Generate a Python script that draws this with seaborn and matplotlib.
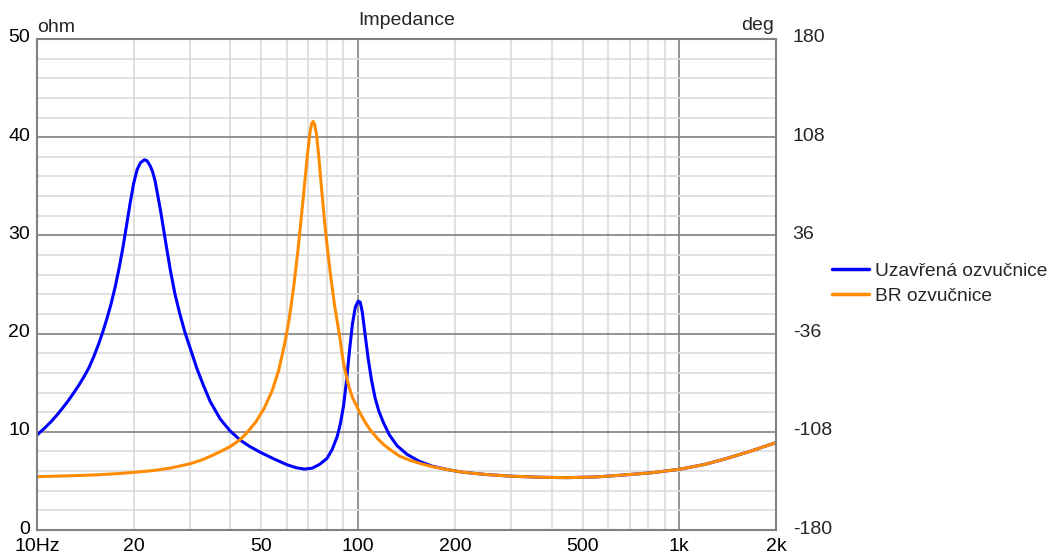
import pandas as pd
import matplotlib
matplotlib.use("Agg")
import matplotlib.pyplot as plt
import matplotlib.ticker as mticker
import matplotlib.transforms as mtransforms
import seaborn as sns

# --- data ---
SERIES_NAMES = ["Uzavřená ozvučnice", "BR ozvučnice"]
SERIES_COLORS = ["#0000ff", "#ff8c00"]

closed_freq = [10, 10.5, 11, 11.5, 12, 12.5, 13, 13.5, 14, 14.5, 15, 15.5, 16, 16.5,
               17, 17.5, 18, 18.5, 19, 19.5, 20, 20.5, 21, 21.6, 22.0, 22.5, 22.9,
               23.3, 23.7, 24.2, 25.1, 26.0, 26.9, 27.9, 28.9, 30.0, 31.5, 33.0, 34.6,
               37.2, 39.9, 42.9, 46, 50, 55, 60, 64, 68, 72, 76, 80, 83, 86, 88, 90,
               92, 94, 96, 98, 100, 101.5, 103, 105, 107.5, 110, 113, 116, 120, 125,
               132, 142, 155, 170, 190, 210, 250, 300, 370, 447, 550, 671, 820, 1000,
               1200, 1375, 1650, 2000]
closed_ohm = [9.67, 10.3, 10.95, 11.65, 12.4, 13.15, 13.95, 14.75, 15.6, 16.5, 17.6,
              18.8, 20.1, 21.5, 23.0, 24.7, 26.6, 28.7, 31.0, 33.3, 35.3, 36.7, 37.4,
              37.7, 37.6, 37.1, 36.5, 35.6, 34.3, 32.7, 29.5, 26.5, 24.0, 21.9, 20.1,
              18.5, 16.4, 14.7, 13.1, 11.3, 10.1, 9.16, 8.5, 7.85, 7.2, 6.65, 6.35,
              6.2, 6.3, 6.7, 7.3, 8.2, 9.5, 10.8, 12.6, 15.2, 18.3, 21.0, 22.7, 23.3,
              23.2, 22.2, 20.0, 17.4, 15.3, 13.4, 12.1, 10.9, 9.7, 8.6, 7.7, 7.0, 6.5,
              6.15, 5.9, 5.65, 5.48, 5.37, 5.33, 5.4, 5.6, 5.83, 6.18, 6.68, 7.2, 7.98,
              8.9]

br_freq = [10, 12, 15, 18, 20, 23, 26, 30, 33, 36, 40, 42.9, 45, 48, 51, 54, 56.5, 59,
           61, 63, 65, 66.5, 68, 69.5, 70.8, 71.7, 72.4, 73.2, 74.2, 75.5, 77, 78.5,
           80, 82, 84.5, 87.5, 90, 93, 96, 101, 105, 109, 115, 120, 128, 135, 145,
           155, 170, 190, 210, 250, 300, 370, 447, 550, 671, 820, 1000, 1200, 1375,
           1650, 2000]
br_ohm = [5.43, 5.5, 5.6, 5.75, 5.87, 6.05, 6.3, 6.75, 7.2, 7.75, 8.5, 9.2, 9.9, 11.0,
          12.4, 14.2, 16.2, 18.9, 21.5, 24.8, 28.6, 31.8, 35.0, 38.2, 40.5, 41.4,
          41.6, 41.3, 40.3, 37.8, 34.6, 31.6, 29.0, 26.0, 22.8, 19.8, 17.0, 14.9,
          13.5, 12.0, 11.0, 10.2, 9.3, 8.7, 8.0, 7.5, 7.1, 6.8, 6.45, 6.15, 5.9,
          5.65, 5.48, 5.37, 5.33, 5.4, 5.6, 5.83, 6.18, 6.68, 7.2, 7.98, 8.9]

x_major = [10, 100, 1000]
x_major_labels = ["10Hz", "100", "1k"]
x_minor = [20, 30, 40, 50, 60, 70, 80, 90, 200, 300, 400, 500, 600, 700, 800, 900, 2000]
x_minor_labels = ["20", "", "", "50", "", "", "", "", "200", "", "", "500", "", "", "", "", "2k"]
phase_ticks = [-180, -108, -36, 36, 108, 180]

df = pd.concat([
    pd.DataFrame({"freq": closed_freq, "ohm": closed_ohm, "series": SERIES_NAMES[0]}),
    pd.DataFrame({"freq": br_freq, "ohm": br_ohm, "series": SERIES_NAMES[1]}),
])

sns.set_style("white")
plt.rcParams["font.family"] = ["Liberation Sans", "DejaVu Sans"]
plt.rcParams["axes.unicode_minus"] = False
FS = 14

fig = plt.figure(figsize=(10.53, 5.54), dpi=100)
ax = fig.add_axes([37 / 1053, 24 / 554, 739 / 1053, 491 / 554])

sns.lineplot(data=df, x="freq", y="ohm", hue="series", hue_order=SERIES_NAMES,
             palette=SERIES_COLORS, linewidth=2.2, errorbar=None, ax=ax)
for line in ax.get_lines():
    line.set_solid_joinstyle("round")
    line.set_solid_capstyle("round")

ax.set_xscale("log")
ax.set_xlim(10, 2000)
ax.set_ylim(0, 50)
ax.xaxis.set_major_locator(mticker.FixedLocator(x_major))
ax.xaxis.set_major_formatter(mticker.FixedFormatter(x_major_labels))
ax.xaxis.set_minor_locator(mticker.FixedLocator(x_minor))
ax.xaxis.set_minor_formatter(mticker.FixedFormatter(x_minor_labels))
ax.yaxis.set_major_locator(mticker.MultipleLocator(10))
ax.yaxis.set_minor_locator(mticker.MultipleLocator(2))

ax.grid(which="major", color="#808080", linewidth=1.2)
ax.grid(which="minor", color="#dcdcdc", linewidth=1.2)
ax.set_axisbelow(True)
ax.tick_params(which="both", length=0, labelsize=FS, colors="black")
ax.tick_params(axis="x", which="both", pad=6)
ax.tick_params(axis="y", pad=5)
ax.set_xlabel("")
ax.set_ylabel("")
for s in ax.spines.values():
    s.set_color("#808080")
    s.set_linewidth(1.5)

ax2 = ax.twinx()
ax2.set_ylim(-180, 180)
ax2.set_yticks(phase_ticks)
ax2.tick_params(length=0, pad=12, labelsize=FS)
for s in ax2.spines.values():
    s.set_visible(False)

# nudge the y tick labels a little upwards, as in the reference
up = mtransforms.ScaledTranslation(0, 3 / 100, fig.dpi_scale_trans)
for lab in ax.get_yticklabels() + ax2.get_yticklabels():
    lab.set_transform(lab.get_transform() + up)

ax.text(0.0, 1.014, "ohm", transform=ax.transAxes, ha="left", va="baseline", fontsize=FS)
ax.text(0.997, 1.018, "deg", transform=ax.transAxes, ha="right", va="baseline", fontsize=FS)
ax.set_title("Impedance", fontsize=FS, pad=10)

sns.move_legend(ax, "upper left", bbox_to_anchor=(1.066, 0.56), frameon=False,
                title=None, fontsize=13.8, handlelength=1.9, handletextpad=0.3,
                borderaxespad=0, labelspacing=0.4)
for line in ax.get_legend().get_lines():
    line.set_linewidth(2.5)

plt.savefig("out.png", dpi=100)
